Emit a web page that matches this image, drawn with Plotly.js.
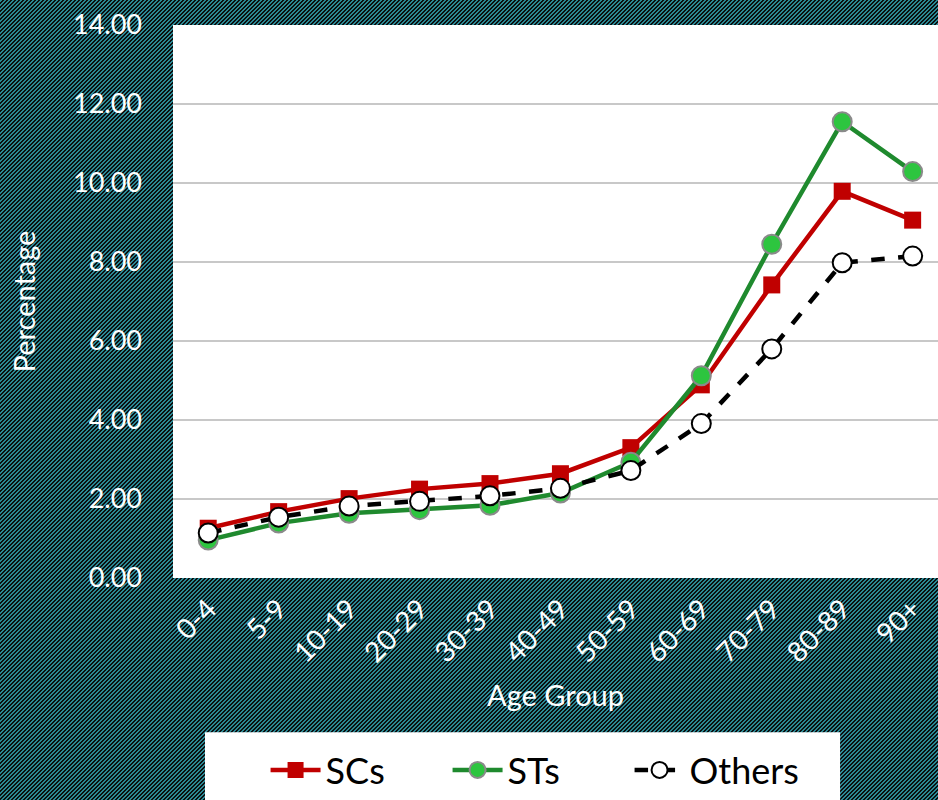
<!DOCTYPE html>
<html>
<head>
<meta charset="utf-8">
<script src="https://cdn.plot.ly/plotly-3.0.1.min.js"></script>
<style>
  html, body { margin:0; padding:0; width:938px; height:800px; overflow:hidden;
    background-color: #0b0f10;
    background-image: url("data:image/svg+xml;utf8,<svg xmlns='http://www.w3.org/2000/svg' width='4' height='4' shape-rendering='crispEdges'><rect width='4' height='4' fill='%230b0f10'/><rect x='0' y='0' width='2' height='1' fill='%232b8894'/><rect x='3' y='1' width='1' height='1' fill='%232b8894'/><rect x='0' y='1' width='1' height='1' fill='%232b8894'/><rect x='2' y='2' width='2' height='1' fill='%232b8894'/><rect x='1' y='3' width='2' height='1' fill='%232b8894'/></svg>");
    background-size: 4px 4px; background-repeat: repeat; image-rendering: pixelated; }
  #chart { width:938px; height:800px; }
</style>
</head>
<body>
<div id="chart"></div>
<script>
const ageGroups = ["0-4","5-9","10-19","20-29","30-39","40-49","50-59","60-69","70-79","80-89","90+"];
const scs    = [1.26, 1.68, 2.01, 2.25, 2.39, 2.64, 3.30, 4.89, 7.42, 9.79, 9.06];
const sts    = [0.96, 1.39, 1.64, 1.73, 1.84, 2.15, 2.93, 5.12, 8.45, 11.55, 10.29];
const others = [1.14, 1.54, 1.82, 1.94, 2.08, 2.27, 2.72, 3.91, 5.80, 7.98, 8.15];
const yTicks = [0, 2, 4, 6, 8, 10, 12, 14];

const font = "Lato, 'Open Sans', sans-serif";

const traces = [
  { x: ageGroups, y: scs, name: "SCs", type: "scatter", mode: "lines+markers",
    line: { color: "#C00000", width: 4.5 },
    marker: { symbol: "square", size: 17, color: "#C00000", line: { color: "#C00000", width: 0 } } },
  { x: ageGroups, y: sts, name: "STs", type: "scatter", mode: "lines+markers",
    line: { color: "#1F8A2E", width: 4.5 },
    marker: { symbol: "circle", size: 19, color: "#2DC53F", line: { color: "#8a8a8a", width: 2 } } },
  { x: ageGroups, y: others, name: "Others", type: "scatter", mode: "lines+markers",
    line: { color: "#000000", width: 4.5, dash: "dash" },
    marker: { symbol: "circle", size: 19, color: "#ffffff", line: { color: "#000000", width: 2 } } }
];

const layout = {
  width: 938, height: 800,
  paper_bgcolor: "rgba(0,0,0,0)",
  plot_bgcolor: "#ffffff",
  margin: { l: 173, r: 0, t: 25, b: 220 },
  font: { family: font, color: "#ffffff" },
  xaxis: {
    type: "category", range: [-0.5, 10.36], tickangle: -45,
    tickfont: { size: 28, color: "#ffffff", family: font },
    ticklabelstandoff: 8,
    showgrid: false, zeroline: false, showline: false, ticks: "",
    title: { text: "Age Group", font: { size: 29, color: "#ffffff", family: font }, standoff: 18 },
    automargin: false,
    fixedrange: true
  },
  yaxis: {
    range: [0, 14], tickvals: yTicks, tickformat: ".2f",
    tickfont: { size: 27, color: "#ffffff", family: font },
    ticklabelstandoff: 30,
    showgrid: true, gridcolor: "#c8c8c8", gridwidth: 2,
    zeroline: false, showline: false, ticks: "", ticklen: 0,
    title: { text: "Percentage", font: { size: 29, color: "#ffffff", family: font }, standoff: 28 },
    automargin: false,
    fixedrange: true
  },
  showlegend: true,
  legend: {
    orientation: "h", x: 0.121, xanchor: "left", y: -0.293, yanchor: "top",
    bgcolor: "rgba(0,0,0,0)", font: { size: 36, color: "#000000", family: font },
    itemwidth: 50, entrywidth: 117, tracegroupgap: 0
  },
  shapes: [
    { type: "rect", xref: "paper", yref: "paper", x0: 0.0418, x1: 0.872, y0: -0.42, y1: -0.279,
      fillcolor: "#ffffff", line: { width: 0 }, layer: "below" }
  ]
};

Plotly.newPlot("chart", traces, layout, { displayModeBar: false, staticPlot: true });
</script>
</body>
</html>
